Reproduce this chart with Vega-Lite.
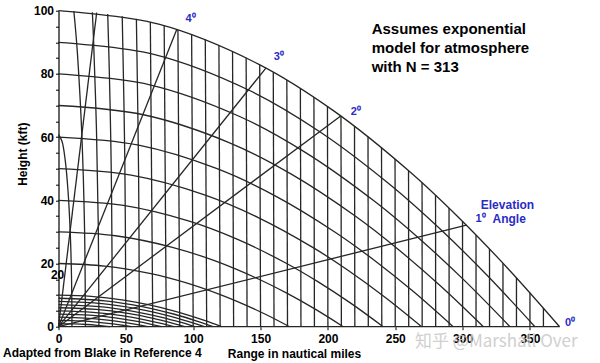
{
"$schema": "https://vega.github.io/schema/vega-lite/v6.json",
"width": 538.8, "height": 316,
"autosize": {"type": "none"},
"padding": {"left": 58.5, "top": 10.7, "right": 2.7, "bottom": 36.3},
"config": {"view": {"stroke": null}, "font": "Liberation Sans"},
"datasets": {
"lines": [
{"g":"h1","o":0,"x":0,"y":1},{"g":"h1","o":1,"x":11.48,"y":0.91},{"g":"h1","o":2,"x":21.04,"y":0.7},{"g":"h1","o":3,"x":28.7,"y":0.44},{"g":"h1","o":4,"x":34.43,"y":0.19},{"g":"h1","o":5,"x":38.26,"y":0},
{"g":"h2","o":0,"x":0,"y":2},{"g":"h2","o":1,"x":16.23,"y":1.82},{"g":"h2","o":2,"x":29.76,"y":1.395},{"g":"h2","o":3,"x":40.58,"y":0.875},{"g":"h2","o":4,"x":48.7,"y":0.38},{"g":"h2","o":5,"x":54.11,"y":0},
{"g":"h3","o":0,"x":0,"y":3},{"g":"h3","o":1,"x":19.88,"y":2.73},{"g":"h3","o":2,"x":36.45,"y":2.09},{"g":"h3","o":3,"x":49.7,"y":1.31},{"g":"h3","o":4,"x":59.64,"y":0.57},{"g":"h3","o":5,"x":66.27,"y":0},
{"g":"h4","o":0,"x":0,"y":4},{"g":"h4","o":1,"x":22.96,"y":3.64},{"g":"h4","o":2,"x":42.09,"y":2.79},{"g":"h4","o":3,"x":57.39,"y":1.75},{"g":"h4","o":4,"x":68.87,"y":0.76},{"g":"h4","o":5,"x":76.52,"y":0},
{"g":"h5","o":0,"x":0,"y":5},{"g":"h5","o":1,"x":25.67,"y":4.55},{"g":"h5","o":2,"x":47.05,"y":3.49},{"g":"h5","o":3,"x":64.16,"y":2.19},{"g":"h5","o":4,"x":77.0,"y":0.95},{"g":"h5","o":5,"x":85.55,"y":0},
{"g":"h6","o":0,"x":0,"y":6},{"g":"h6","o":1,"x":28.12,"y":5.46},{"g":"h6","o":2,"x":51.55,"y":4.185},{"g":"h6","o":3,"x":70.29,"y":2.625},{"g":"h6","o":4,"x":84.35,"y":1.14},{"g":"h6","o":5,"x":93.72,"y":0},
{"g":"h7","o":0,"x":0,"y":7},{"g":"h7","o":1,"x":30.37,"y":6.37},{"g":"h7","o":2,"x":55.68,"y":4.88},{"g":"h7","o":3,"x":75.92,"y":3.06},{"g":"h7","o":4,"x":91.11,"y":1.33},{"g":"h7","o":5,"x":101.23,"y":0},
{"g":"h8","o":0,"x":0,"y":8},{"g":"h8","o":1,"x":32.47,"y":7.28},{"g":"h8","o":2,"x":59.52,"y":5.58},{"g":"h8","o":3,"x":81.17,"y":3.5},{"g":"h8","o":4,"x":97.4,"y":1.52},{"g":"h8","o":5,"x":108.22,"y":0},
{"g":"h9","o":0,"x":0,"y":9},{"g":"h9","o":1,"x":34.43,"y":8.19},{"g":"h9","o":2,"x":63.13,"y":6.28},{"g":"h9","o":3,"x":86.09,"y":3.94},{"g":"h9","o":4,"x":103.3,"y":1.71},{"g":"h9","o":5,"x":114.78,"y":0},
{"g":"h10","o":0,"x":0,"y":10},{"g":"h10","o":1,"x":24.2,"y":9.6},{"g":"h10","o":2,"x":48.4,"y":8.4},{"g":"h10","o":3,"x":66.55,"y":6.975},{"g":"h10","o":4,"x":84.7,"y":5.1},{"g":"h10","o":5,"x":96.8,"y":3.6},{"g":"h10","o":6,"x":108.9,"y":1.9},{"g":"h10","o":7,"x":121,"y":0},
{"g":"h20","o":0,"x":0,"y":20},{"g":"h20","o":1,"x":34.3,"y":19.19},{"g":"h20","o":2,"x":68.6,"y":16.78},{"g":"h20","o":3,"x":94.33,"y":13.92},{"g":"h20","o":4,"x":120.05,"y":10.16},{"g":"h20","o":5,"x":137.2,"y":7.16},{"g":"h20","o":6,"x":154.35,"y":3.78},{"g":"h20","o":7,"x":171.5,"y":0},
{"g":"h30","o":0,"x":0,"y":30},{"g":"h30","o":1,"x":42.28,"y":28.78},{"g":"h30","o":2,"x":84.56,"y":25.13},{"g":"h30","o":3,"x":116.27,"y":20.82},{"g":"h30","o":4,"x":147.98,"y":15.18},{"g":"h30","o":5,"x":169.12,"y":10.69},{"g":"h30","o":6,"x":190.26,"y":5.63},{"g":"h30","o":7,"x":211.4,"y":0},
{"g":"h40","o":0,"x":0,"y":40},{"g":"h40","o":1,"x":48.2,"y":38.36},{"g":"h40","o":2,"x":96.4,"y":33.47},{"g":"h40","o":3,"x":132.55,"y":27.7},{"g":"h40","o":4,"x":168.7,"y":20.16},{"g":"h40","o":5,"x":192.8,"y":14.18},{"g":"h40","o":6,"x":216.9,"y":7.45},{"g":"h40","o":7,"x":241,"y":0},
{"g":"h50","o":0,"x":0,"y":50},{"g":"h50","o":1,"x":53.92,"y":47.94},{"g":"h50","o":2,"x":107.84,"y":41.78},{"g":"h50","o":3,"x":148.28,"y":34.53},{"g":"h50","o":4,"x":188.72,"y":25.1},{"g":"h50","o":5,"x":215.68,"y":17.63},{"g":"h50","o":6,"x":242.64,"y":9.25},{"g":"h50","o":7,"x":269.6,"y":0},
{"g":"h60","o":0,"x":0,"y":60},{"g":"h60","o":1,"x":58.6,"y":57.51},{"g":"h60","o":2,"x":117.2,"y":50.07},{"g":"h60","o":3,"x":161.15,"y":41.34},{"g":"h60","o":4,"x":205.1,"y":29.99},{"g":"h60","o":5,"x":234.4,"y":21.04},{"g":"h60","o":6,"x":263.7,"y":11.03},{"g":"h60","o":7,"x":293,"y":0},
{"g":"h70","o":0,"x":0,"y":70},{"g":"h70","o":1,"x":63.08,"y":67.07},{"g":"h70","o":2,"x":126.16,"y":58.35},{"g":"h70","o":3,"x":173.47,"y":48.11},{"g":"h70","o":4,"x":220.78,"y":34.85},{"g":"h70","o":5,"x":252.32,"y":24.42},{"g":"h70","o":6,"x":283.86,"y":12.78},{"g":"h70","o":7,"x":315.4,"y":0},
{"g":"h80","o":0,"x":0,"y":80},{"g":"h80","o":1,"x":67.04,"y":76.62},{"g":"h80","o":2,"x":134.08,"y":66.59},{"g":"h80","o":3,"x":184.36,"y":54.85},{"g":"h80","o":4,"x":234.64,"y":39.67},{"g":"h80","o":5,"x":268.16,"y":27.76},{"g":"h80","o":6,"x":301.68,"y":14.5},{"g":"h80","o":7,"x":335.2,"y":0},
{"g":"h90","o":0,"x":0,"y":90},{"g":"h90","o":1,"x":70.74,"y":86.18},{"g":"h90","o":2,"x":141.48,"y":74.82},{"g":"h90","o":3,"x":194.54,"y":61.55},{"g":"h90","o":4,"x":247.59,"y":44.45},{"g":"h90","o":5,"x":282.96,"y":31.06},{"g":"h90","o":6,"x":318.33,"y":16.21},{"g":"h90","o":7,"x":353.7,"y":0},
{"g":"h100","o":0,"x":0,"y":100},{"g":"h100","o":1,"x":74.4,"y":95.72},{"g":"h100","o":2,"x":148.8,"y":83.02},{"g":"h100","o":3,"x":204.6,"y":68.22},{"g":"h100","o":4,"x":260.4,"y":49.19},{"g":"h100","o":5,"x":297.6,"y":34.33},{"g":"h100","o":6,"x":334.8,"y":17.88},{"g":"h100","o":7,"x":372,"y":0},
{"g":"r10","o":0,"x":10,"y":0},{"g":"r10","o":1,"x":9.66,"y":15.73},{"g":"r10","o":2,"x":8.66,"y":30.38},{"g":"r10","o":3,"x":7.07,"y":42.96},{"g":"r10","o":4,"x":5,"y":52.62},{"g":"r10","o":5,"x":2.59,"y":58.69},{"g":"r10","o":6,"x":0,"y":60.76},
{"g":"r20","o":0,"x":20,"y":0},{"g":"r20","o":1,"x":19.32,"y":31.45},{"g":"r20","o":2,"x":17.32,"y":60.76},{"g":"r20","o":3,"x":14.14,"y":85.93},{"g":"r20","o":4,"x":12.86,"y":93.08},{"g":"r20","o":5,"x":11.39,"y":99.9},
{"g":"r30","o":0,"x":30,"y":0},{"g":"r30","o":1,"x":29.54,"y":31.65},{"g":"r30","o":2,"x":28.19,"y":62.34},{"g":"r30","o":3,"x":25.98,"y":91.14},{"g":"r30","o":4,"x":25.14,"y":99.51},
{"g":"r40","o":0,"x":40,"y":0},{"g":"r40","o":1,"x":39.39,"y":42.19},{"g":"r40","o":2,"x":38.64,"y":62.9},{"g":"r40","o":3,"x":37.59,"y":83.12},{"g":"r40","o":4,"x":36.53,"y":98.97},
{"g":"r50","o":0,"x":50,"y":0},{"g":"r50","o":1,"x":49.24,"y":52.74},{"g":"r50","o":2,"x":47.31,"y":98.27},
{"g":"r60","o":0,"x":60,"y":0},{"g":"r60","o":1,"x":59.46,"y":48.7},{"g":"r60","o":2,"x":57.82,"y":97.41},
{"g":"r70","o":0,"x":70,"y":0},{"g":"r70","o":1,"x":68.18,"y":96.4},
{"g":"r80","o":0,"x":80,"y":0},{"g":"r80","o":1,"x":78.45,"y":95.24},
{"g":"r90","o":0,"x":90,"y":0},{"g":"r90","o":1,"x":88.66,"y":93.93},
{"g":"r100","o":0,"x":100,"y":0},{"g":"r100","o":1,"x":98.84,"y":92.47},
{"g":"r110","o":0,"x":110,"y":0},{"g":"r110","o":1,"x":108.98,"y":90.85},
{"g":"r120","o":0,"x":120,"y":0},{"g":"r120","o":1,"x":119.1,"y":89.08},
{"g":"r130","o":0,"x":130,"y":0},{"g":"r130","o":1,"x":129.21,"y":87.17},
{"g":"r140","o":0,"x":140,"y":0},{"g":"r140","o":1,"x":139.3,"y":85.1},
{"g":"r150","o":0,"x":150,"y":0},{"g":"r150","o":1,"x":149.38,"y":82.89},
{"g":"r160","o":0,"x":160,"y":0},{"g":"r160","o":1,"x":159.45,"y":80.54},
{"g":"r170","o":0,"x":170,"y":0},{"g":"r170","o":1,"x":169.52,"y":78.04},
{"g":"r180","o":0,"x":180,"y":0},{"g":"r180","o":1,"x":179.57,"y":75.4},
{"g":"r190","o":0,"x":190,"y":0},{"g":"r190","o":1,"x":189.62,"y":72.62},
{"g":"r200","o":0,"x":200,"y":0},{"g":"r200","o":1,"x":199.67,"y":69.7},
{"g":"r210","o":0,"x":210,"y":0},{"g":"r210","o":1,"x":209.71,"y":66.65},
{"g":"r220","o":0,"x":220,"y":0},{"g":"r220","o":1,"x":219.75,"y":63.46},
{"g":"r230","o":0,"x":230,"y":0},{"g":"r230","o":1,"x":229.79,"y":60.14},
{"g":"r240","o":0,"x":240,"y":0},{"g":"r240","o":1,"x":239.82,"y":56.68},
{"g":"r250","o":0,"x":250,"y":0},{"g":"r250","o":1,"x":249.85,"y":53.1},
{"g":"r260","o":0,"x":260,"y":0},{"g":"r260","o":1,"x":259.87,"y":49.39},
{"g":"r270","o":0,"x":270,"y":0},{"g":"r270","o":1,"x":269.9,"y":45.56},
{"g":"r280","o":0,"x":280,"y":0},{"g":"r280","o":1,"x":279.92,"y":41.6},
{"g":"r290","o":0,"x":290,"y":0},{"g":"r290","o":1,"x":289.93,"y":37.53},
{"g":"r300","o":0,"x":300,"y":0},{"g":"r300","o":1,"x":299.95,"y":33.34},
{"g":"r310","o":0,"x":310,"y":0},{"g":"r310","o":1,"x":309.96,"y":29.04},
{"g":"r320","o":0,"x":320,"y":0},{"g":"r320","o":1,"x":319.97,"y":24.62},
{"g":"r330","o":0,"x":330,"y":0},{"g":"r330","o":1,"x":329.98,"y":20.11},
{"g":"r340","o":0,"x":340,"y":0},{"g":"r340","o":1,"x":339.99,"y":15.48},
{"g":"r350","o":0,"x":350,"y":0},{"g":"r350","o":1,"x":350,"y":10.75},
{"g":"r360","o":0,"x":360,"y":0},{"g":"r360","o":1,"x":360,"y":5.93},
{"g":"a0","o":0,"x":0,"y":0},{"g":"a0","o":1,"x":372,"y":0},
{"g":"a1","o":0,"x":0,"y":0},{"g":"a1","o":1,"x":302.8,"y":32.12},
{"g":"a3","o":0,"x":0,"y":0},{"g":"a3","o":1,"x":209.5,"y":66.71},
{"g":"a5","o":0,"x":0,"y":0},{"g":"a5","o":1,"x":153.97,"y":81.85},
{"g":"a10","o":0,"x":0,"y":0},{"g":"a10","o":1,"x":87.78,"y":94.05},
{"g":"a30","o":0,"x":0,"y":0},{"g":"a30","o":1,"x":28.33,"y":99.38}
],
"deg": [
{"x":98.0,"y":97.4,"t":"4⁰"},
{"x":163.5,"y":85.2,"t":"3⁰"},
{"x":220.7,"y":67.8,"t":"2⁰"},
{"x":313.3,"y":34.1,"t":"1⁰"},
{"x":379.7,"y":1.3,"t":"0⁰"}
],
"elev": [
{"x":333.3,"y":38.5,"t":"Elevation"},
{"x":334.6,"y":34.1,"t":"Angle"}
],
"note": [
{"x":232.5,"y":92.6,"t":"Assumes exponential"},
{"x":232.5,"y":86.6,"t":"model for atmosphere"},
{"x":232.5,"y":80.6,"t":"with N = 313"}
],
"adapted": [{"x":-41.2,"y":-9.5,"t":"Adapted from Blake in Reference 4"}],
"inner": [{"x":-0.7,"y":16.4,"t":"20"}],
"wm": [{"x":264.7,"y":-4.7,"t":"知乎 @Marshall Over"}]
},
"encoding": {
"x": {"field": "x", "type": "quantitative", "scale": {"domain": [0, 400], "nice": false, "zero": false},
 "axis": {"title": "Range in nautical miles", "values": [0,50,100,150,200,250,300,350], "grid": false, "domain": false,
  "tickSize": 3, "tickColor": "#000", "labelPadding": 4, "labelFlush": false, "labelOverlap": false,
  "labelFont": "Liberation Sans", "labelFontWeight": "bold", "labelFontSize": 12, "labelColor": "#000",
  "titleFont": "Liberation Sans", "titleFontWeight": "bold", "titleFontSize": 12, "titleColor": "#000",
  "titleX": 235.5, "titleY": 31, "titleAlign": "center", "titleBaseline": "alphabetic"}},
"y": {"field": "y", "type": "quantitative", "scale": {"domain": [0, 100], "nice": false, "zero": false},
 "axis": {"title": "Height (kft)", "values": [0,5,10,15,20,25,30,35,40,45,50,55,60,65,70,75,80,85,90,95,100],
  "labelExpr": "datum.value % 20 == 0 ? datum.label : ''", "grid": false, "domainColor": "#000", "domainWidth": 1.2,
  "tickSize": 3, "tickColor": "#000", "labelPadding": 2, "labelOverlap": false, "labelFlush": false,
  "labelFont": "Liberation Sans", "labelFontWeight": "bold", "labelFontSize": 12, "labelColor": "#000",
  "titleFont": "Liberation Sans", "titleFontWeight": "bold", "titleFontSize": 12, "titleColor": "#000",
  "titleX": -36.5, "titleY": 143, "titleAngle": 270, "titleAlign": "center", "titleBaseline": "middle"}}
},
"layer": [
{
"data": {"name": "lines"},
"mark": {"type": "line", "interpolate": "catmull-rom", "stroke": "#262626", "strokeWidth": 1.3},
"encoding": {
"detail": {"field": "g"},
"order": {"field": "o", "type": "quantitative"}
}
},
{
"data": {"name": "deg"},
"mark": {"type": "text", "align": "center", "baseline": "middle", "fontSize": 11, "fontWeight": "bold", "color": "#2b2bc4", "font": "Liberation Sans"},
"encoding": {"text": {"field": "t"}}
},
{
"data": {"name": "elev"},
"mark": {"type": "text", "align": "center", "baseline": "middle", "fontSize": 12, "fontWeight": "bold", "color": "#2b2bc4", "font": "Liberation Sans"},
"encoding": {"text": {"field": "t"}}
},
{
"data": {"name": "note"},
"mark": {"type": "text", "align": "left", "baseline": "alphabetic", "fontSize": 15, "fontWeight": "bold", "color": "#000", "font": "Liberation Sans"},
"encoding": {"text": {"field": "t"}}
},
{
"data": {"name": "adapted"},
"mark": {"type": "text", "align": "left", "baseline": "alphabetic", "fontSize": 12, "fontWeight": "bold", "color": "#000", "font": "Liberation Sans"},
"encoding": {"text": {"field": "t"}}
},
{
"data": {"name": "inner"},
"mark": {"type": "text", "align": "center", "baseline": "middle", "fontSize": 12, "fontWeight": "bold", "color": "#000", "font": "Liberation Sans"},
"encoding": {"text": {"field": "t"}}
},
{
"data": {"name": "wm"},
"mark": {"type": "text", "align": "left", "baseline": "middle", "fontSize": 17, "color": "#c8c8c8", "opacity": 0.85, "font": "Noto Sans CJK SC"},
"encoding": {"text": {"field": "t"}}
}
]
}
